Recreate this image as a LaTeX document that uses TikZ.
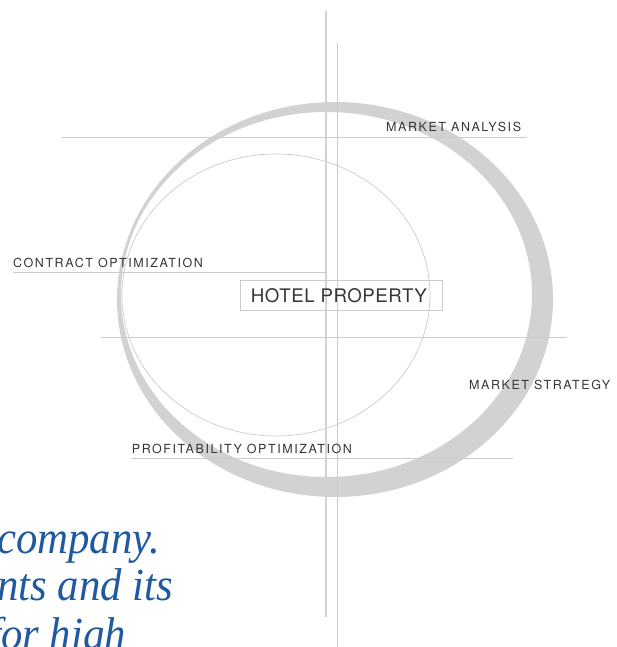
\documentclass[tikz,border=0pt]{standalone}
\usepackage{graphicx}
\usepackage{fontspec}
\newfontfamily\labelfont[LetterSpace=12.5]{TeX Gyre Heros}
\newfontfamily\titlefont[LetterSpace=3]{TeX Gyre Heros}
\newfontfamily\bodyfont{Liberation Serif}
\definecolor{ring}{HTML}{D1D2D4}
\definecolor{rule}{HTML}{CACBCD}
\definecolor{ink}{HTML}{353535}
\definecolor{quote}{HTML}{1F5AA0}
\begin{document}
\begin{tikzpicture}[x=1pt,y=-1pt,
  rulestyle/.style={draw=rule,line width=0.9pt},
  tag/.style={anchor=base west,inner sep=0pt,text=ink,
    font=\labelfont\fontsize{12.5}{12.5}\selectfont},
  quoteline/.style={anchor=base west,inner sep=0pt,text=quote,
    font=\bodyfont\fontsize{46}{46}\selectfont\itshape}]
\useasboundingbox (0,0) rectangle (616,647);
\clip (0,0) rectangle (616,647);

% crescent ring: outer ellipse minus an inner one shifted up and left
\fill[ring,even odd rule]
  (335,299.5) ellipse [x radius=218,y radius=197.5]
  (326.5,294.5) ellipse [x radius=205.5,y radius=182.5];

% thin inner ellipse
\draw[draw=rule,line width=0.7pt] (276,295) ellipse [x radius=154,y radius=141];

% axis end points
\coordinate (va1) at (326,11);   \coordinate (va2) at (326,617);
\coordinate (vb1) at (337,43);   \coordinate (vb2) at (337,650);
\coordinate (ha1) at (62,137);   \coordinate (ha2) at (527,137);
\coordinate (hc1) at (13,272);   \coordinate (hc2) at (326,272);
\coordinate (hs1) at (101,337);  \coordinate (hs2) at (567,337);
\coordinate (hp1) at (131,458);  \coordinate (hp2) at (513,458);

% vertical axes
\draw[draw=ring,line width=2.6pt] (va1) -- (va2);
\draw[rulestyle] (vb1) -- (vb2);

% horizontal rules
\draw[rulestyle] (ha1) -- (ha2);
\draw[rulestyle] (hc1) -- (hc2);
\draw[rulestyle] (hs1) -- (hs2);
\draw[rulestyle] (hp1) -- (hp2);

% centre box
\node[draw=rule,line width=0.8pt,minimum width=202pt,minimum height=29.5pt,
      inner sep=0pt] (hotelbox) at (341.5,295.2) {};
\node[anchor=base west,inner sep=0pt,text=ink,
      font=\titlefont\fontsize{18.7}{18.7}\selectfont] (hotel) at (250.7,302.7) {HOTEL PROPERTY};

% labels
\node[tag] (analysis) at (386,132) {MARKET ANALYSIS};
\node[tag] (contract) at (13,267.5) {CONTRACT OPTIMIZATION};
\node[tag] (strategy) at (469,389.5) {MARKET STRATEGY};
\node[tag] (profit) at (131.7,453.5) {PROFITABILITY OPTIMIZATION};

% running text
\node[quoteline] (q1) at (-3,553) {\scalebox{0.93}[1]{company.}};
\node[quoteline] (q2) at (-3,600) {\scalebox{0.93}[1]{nts and its}};
\node[quoteline] (q3) at (-11,649) {\scalebox{0.93}[1]{for high}};
\end{tikzpicture}
\end{document}
